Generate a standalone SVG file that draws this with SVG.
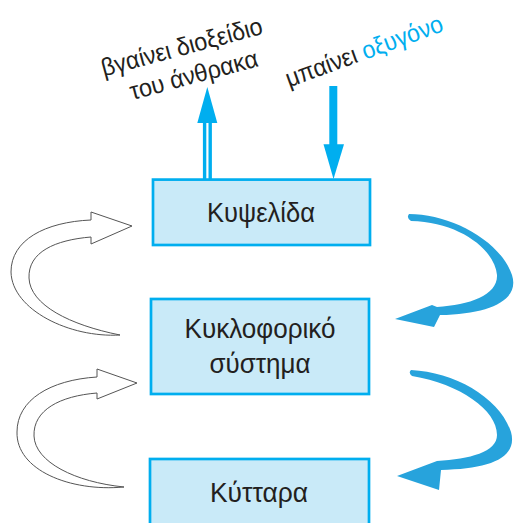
<svg xmlns="http://www.w3.org/2000/svg" width="516" height="523" viewBox="0 0 516 523">
<style>
.box{fill:#C9EAF8;stroke:#00AEEF;stroke-width:2.7}
.lbl{font-family:"Liberation Sans",Arial,sans-serif;font-size:28px;fill:#231F20;text-anchor:middle}
.note{font-family:"Liberation Sans",Arial,sans-serif;font-size:25px;fill:#231F20;text-anchor:middle}
.cy{fill:#00AEEF}
.outline{fill:#fff;stroke:#555;stroke-width:1}
.blue{fill:#27A3DC}
</style>
<rect width="516" height="523" fill="#fff"/>
<g id="connectors">
  <g id="out-arrow">
    <line x1="204.6" y1="121" x2="204.6" y2="180" stroke="#00AEEF" stroke-width="3.4"/>
    <line x1="210.2" y1="121" x2="210.2" y2="180" stroke="#00AEEF" stroke-width="3.4"/>
    <polygon class="cy" points="207.3,87 197.3,123 217.3,123"/>
  </g>
  <g id="in-arrow">
    <rect class="cy" x="329.3" y="86" width="8" height="62"/>
    <polygon class="cy" points="323.5,144.3 344,144.3 333.5,179"/>
  </g>
  <path id="left-arrow-1" class="outline" d="M 91,220 L 91,212 L 132,226 L 91,244 L 91,237 C 55,240 28,252 29,278 C 30,305 70,325 120,335 C 70,338 12,310 11,272 C 11,240 45,222 91,220 Z"/>
  <path id="left-arrow-2" class="outline" d="M 97,377 L 97,369 L 137,383 L 97,399 L 97,393 C 60,396 33,410 34,436 C 35,462 75,482 124,487 C 70,492 16,470 17,432 C 17,400 50,380 97,377 Z"/>
  <path id="right-arrow-1" class="blue" d="M 409,214 C 450,214 500,240 512,275 C 520,300 490,314 440,315 L 434,327 L 395,319 L 432,305 L 437,307 C 470,305 498,295 497,275 C 495,250 460,222 411,221 Q 406,218 409,214 Z"/>
  <path id="right-arrow-2" class="blue" d="M 411,370 C 455,372 500,398 511,432 C 518,458 490,469 441,470 L 439,490 L 397,476 L 437,461 C 470,459 497,452 497,435 C 497,410 460,384 412,376 Q 408,373 411,370 Z"/>
</g>
<g id="label-out">
  <text class="note" transform="rotate(-15 184 55)" x="184" y="55" textLength="166" lengthAdjust="spacingAndGlyphs">βγαίνει διοξείδιο</text>
  <text class="note" transform="rotate(-15 196 83)" x="196" y="83" textLength="132" lengthAdjust="spacingAndGlyphs">του άνθρακα</text>
</g>
<g id="label-in">
  <text class="note" transform="rotate(-20 367 59)" x="367" y="59" textLength="166" lengthAdjust="spacingAndGlyphs">μπαίνει <tspan fill="#00AEEF">οξυγόνο</tspan></text>
</g>
<g id="node-kypselida">
  <rect class="box" x="153" y="179.6" width="217" height="65.4"/>
  <text class="lbl" x="261" y="222" textLength="108" lengthAdjust="spacingAndGlyphs">Κυψελίδα</text>
</g>
<g id="node-kykloforiko">
  <rect class="box" x="151" y="299" width="218" height="95"/>
  <text class="lbl" x="260" y="338" textLength="151" lengthAdjust="spacingAndGlyphs">Κυκλοφορικό</text>
  <text class="lbl" x="260" y="373" textLength="101" lengthAdjust="spacingAndGlyphs">σύστημα</text>
</g>
<g id="node-kyttara">
  <rect class="box" x="150" y="459" width="219" height="80"/>
  <text class="lbl" x="259" y="502" textLength="98" lengthAdjust="spacingAndGlyphs">Κύτταρα</text>
</g>
</svg>
